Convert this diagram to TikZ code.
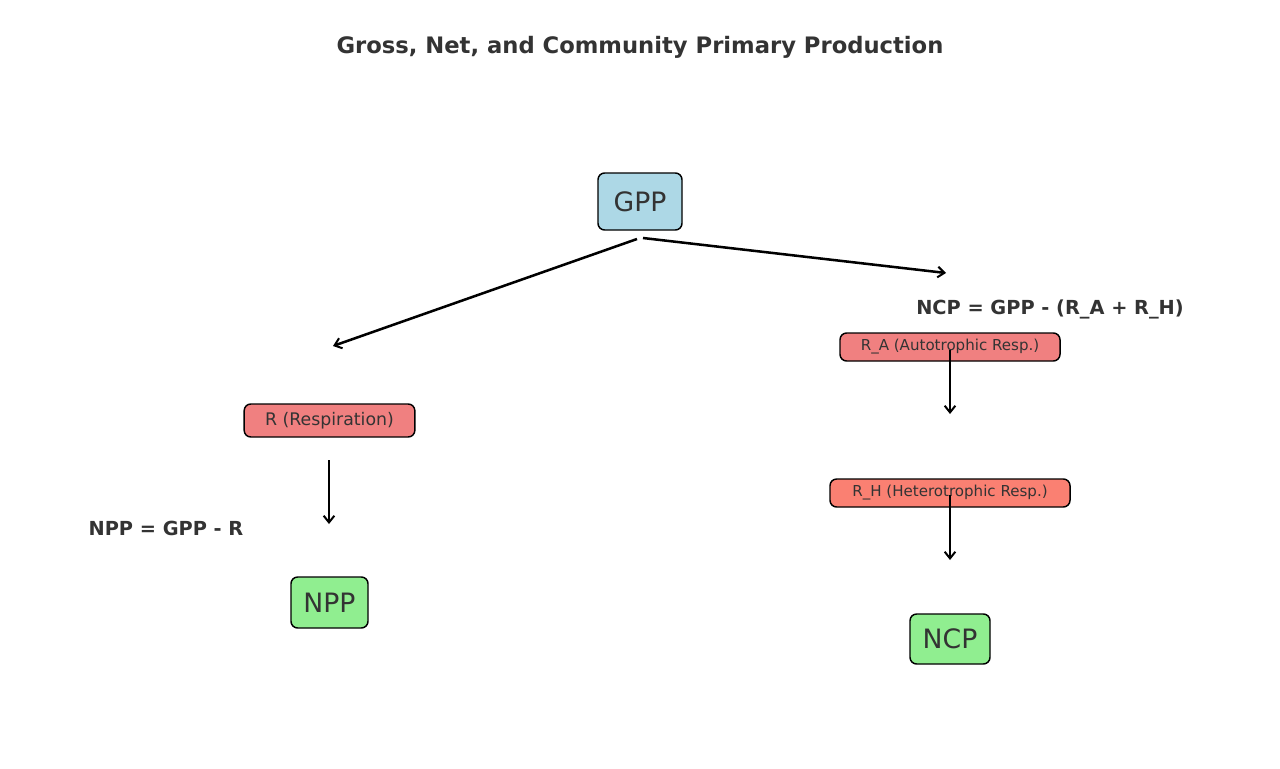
\documentclass[tikz,border=0pt]{standalone}
\usepackage{fontspec}
\setmainfont{DejaVu Sans}
\usetikzlibrary{arrows.meta}
\definecolor{tx}{HTML}{333333}
\definecolor{lblue}{HTML}{ADD8E6}
\definecolor{lcoral}{HTML}{F08080}
\definecolor{salm}{HTML}{FA8072}
\definecolor{lgreen}{HTML}{90EE90}
\tikzset{
 box/.style={draw=black,line width=1.1pt,rounded corners=5pt,text=tx,inner sep=0pt,align=center},
 big/.style={box,font=\fontsize{20}{24}\selectfont},
 small/.style={box,font=\fontsize{13}{15}\selectfont},
 tiny/.style={box,font=\fontsize{11.3}{13}\selectfont},
 lab/.style={text=tx,font=\bfseries\fontsize{14.5}{17}\selectfont,inner sep=0pt},
 arr/.style={line width=1.9pt,-{Straight Barb[length=5pt,width=8pt,line width=1.5pt]}}
}
\begin{document}
\begin{tikzpicture}[x=0.75pt,y=-0.75pt]
\useasboundingbox[fill=white] (0,0) rectangle (1280,768);
\node[text=tx,font=\bfseries\fontsize{17}{20}\selectfont] (title) at (640,47) {Gross, Net, and Community Primary Production};
\node[big,fill=lblue,minimum width=63pt,minimum height=42.75pt] (gpp) at (640,201.5) {GPP};
\node[small,fill=lcoral,minimum width=128pt,minimum height=24.75pt] (r) at (329.5,420.5) {R (Respiration)};
\node[big,fill=lgreen,minimum width=57.75pt,minimum height=38.25pt] (npp) at (329.5,602.5) {NPP};
\node[tiny,fill=lcoral,minimum width=165pt,minimum height=21pt] (ra) at (950,347) {R\_A (Autotrophic Resp.)};
\node[tiny,fill=salm,minimum width=180pt,minimum height=21pt] (rh) at (950,493) {R\_H (Heterotrophic Resp.)};
\node[big,fill=lgreen,minimum width=60pt,minimum height=37.5pt] (ncp) at (950,639) {NCP};
\node[lab] (nppeq) at (166,528) {NPP = GPP - R};
\node[lab] (ncpeq) at (1050,309) {NCP = GPP - (R\_A + R\_H)};
\coordinate (g1) at (637,239); \coordinate (e1) at (333,346);
\coordinate (g2) at (643,238); \coordinate (e2) at (946,273);
\coordinate (r1) at (329,460); \coordinate (e3) at (329,524);
\coordinate (a1) at (950,350); \coordinate (e4) at (950,414);
\coordinate (h1) at (950,495); \coordinate (e5) at (950,560);
\draw[arr] (g1) -- (e1);
\draw[arr] (g2) -- (e2);
\draw[arr] (r1) -- (e3);
\draw[arr] (a1) -- (e4);
\draw[arr] (h1) -- (e5);
\end{tikzpicture}
\end{document}
